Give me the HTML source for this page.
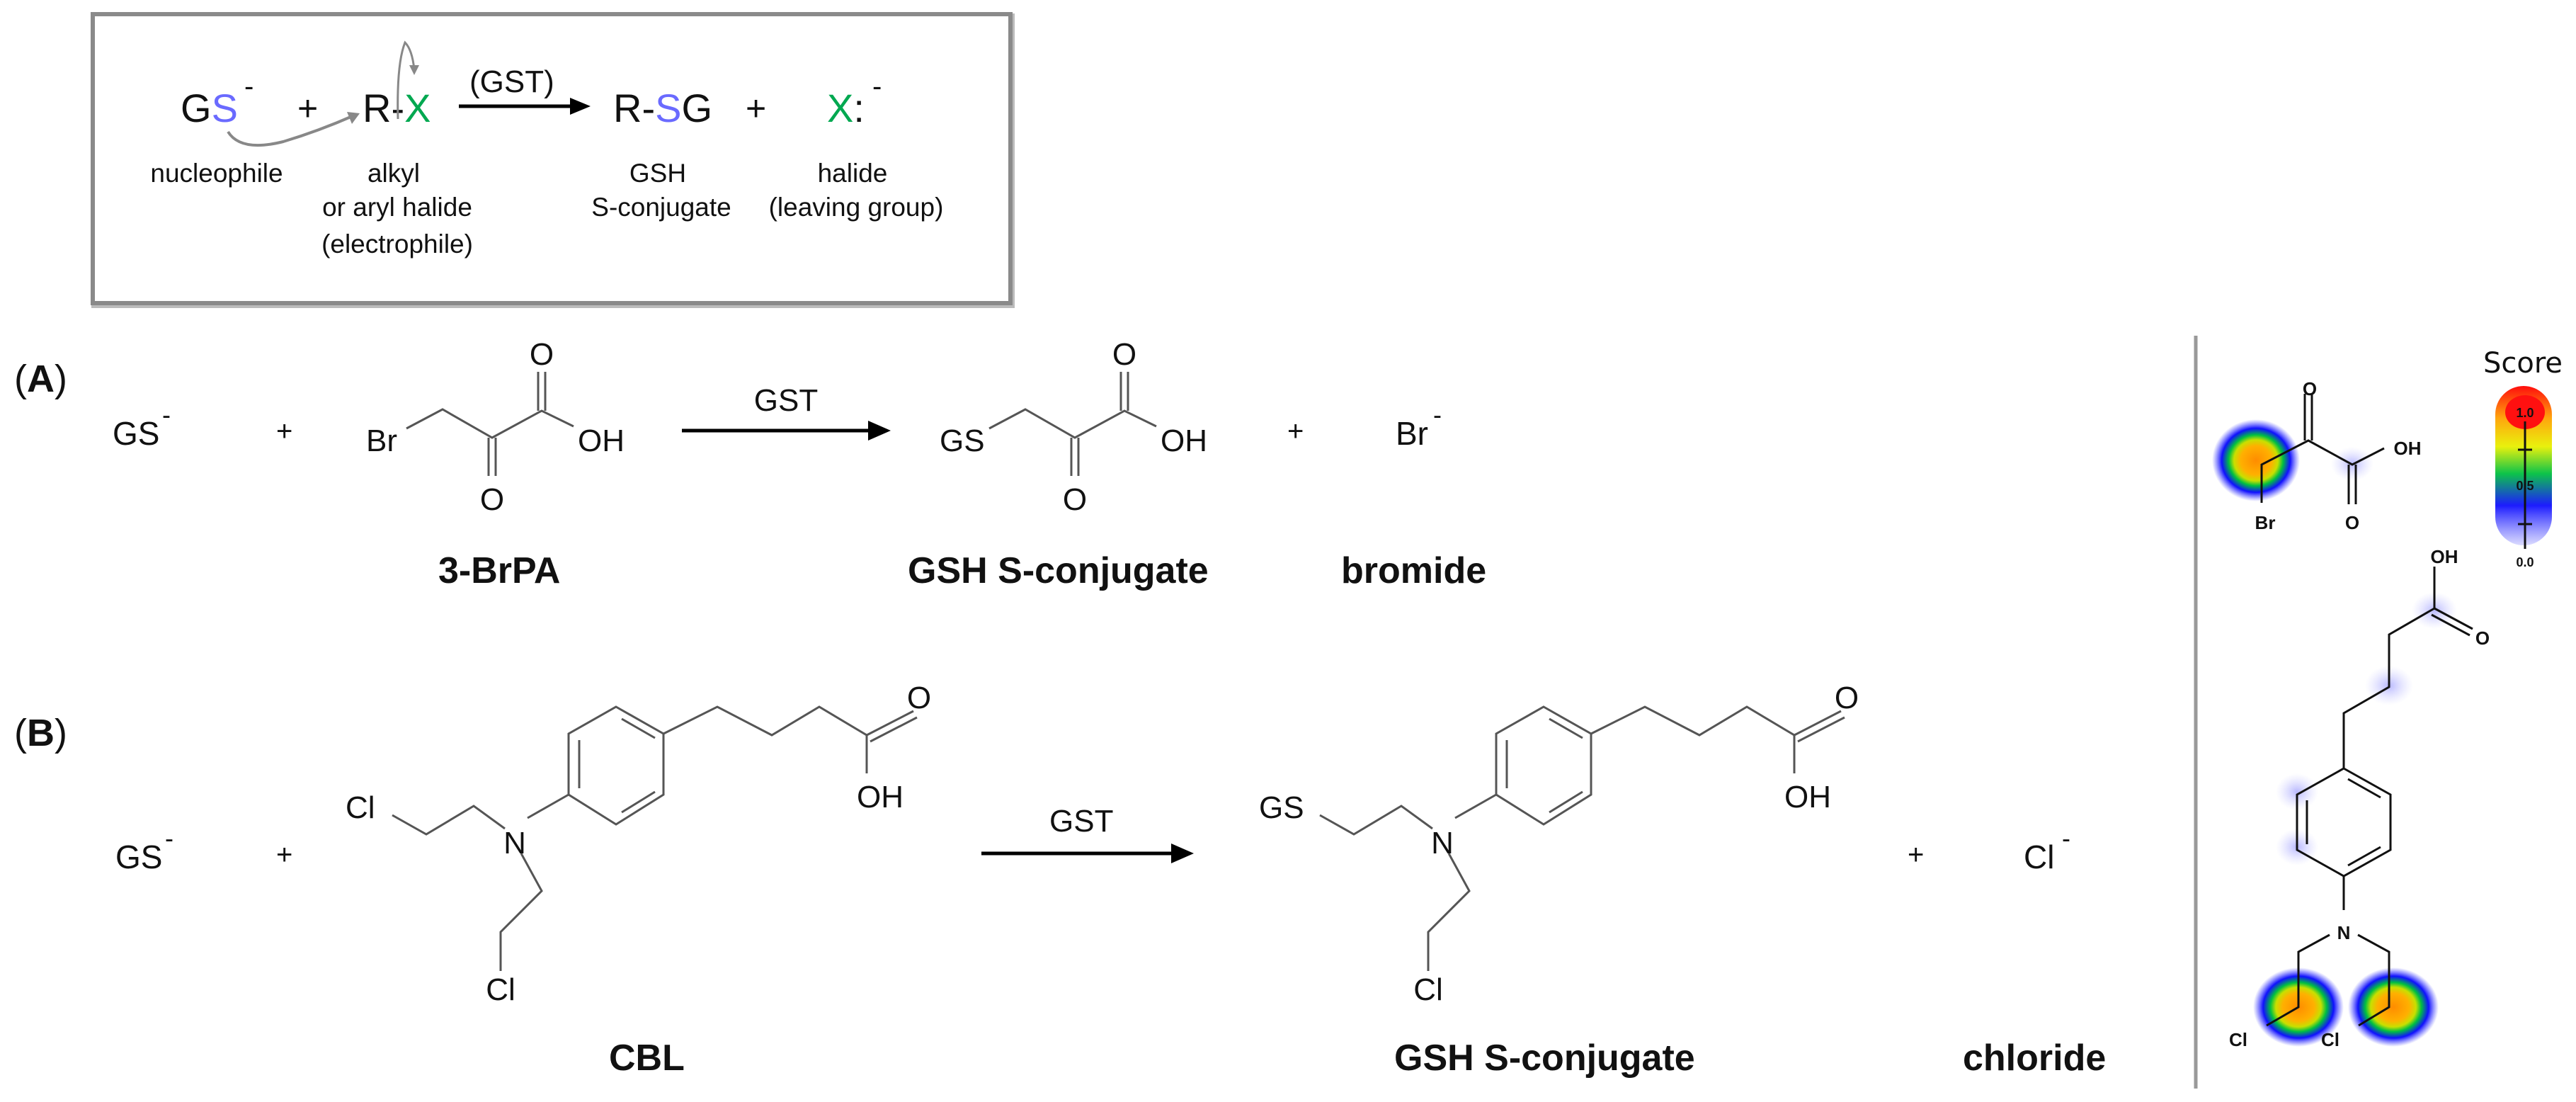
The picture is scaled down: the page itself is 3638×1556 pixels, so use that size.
<!DOCTYPE html>
<html><head><meta charset="utf-8"><style>
html,body{margin:0;padding:0;background:#fff;}
svg{display:block;}
text{font-family:"Liberation Sans",Arial,sans-serif;fill:#111;}
.dv{font-family:"DejaVu Sans",sans-serif;font-weight:bold;}
</style></head><body>
<svg width="3638" height="1556" viewBox="0 0 3638 1556" xmlns="http://www.w3.org/2000/svg">
<defs>
<radialGradient id="hm">
<stop offset="0" stop-color="#ff8c00"/><stop offset="0.35" stop-color="#ffb000"/><stop offset="0.5" stop-color="#c8e000"/><stop offset="0.62" stop-color="#00c040"/><stop offset="0.78" stop-color="#1010ff"/><stop offset="1" stop-color="#4040ff" stop-opacity="0"/>
</radialGradient>
<radialGradient id="faint"><stop offset="0" stop-color="#b8b8ff"/><stop offset="1" stop-color="#d8d8ff" stop-opacity="0"/></radialGradient>
<linearGradient id="bar" x1="0" y1="0" x2="0" y2="1">
<stop offset="0" stop-color="#ff0000"/><stop offset="0.2" stop-color="#ffa000"/><stop offset="0.38" stop-color="#e8f000"/><stop offset="0.55" stop-color="#00c040"/><stop offset="0.75" stop-color="#1010ff"/><stop offset="1" stop-color="#4040ff" stop-opacity="0.2"/>
</linearGradient>
</defs>

<!-- top box -->
<rect x="131" y="20" width="1296" height="408" fill="#fff" stroke="#bbb" stroke-width="8" transform="translate(2,3)"/>
<rect x="131" y="20" width="1296" height="408" fill="#fff" stroke="#8a8a8a" stroke-width="6"/>
<text x="255" y="172" font-size="56">G<tspan style="fill:#6a6aff">S</tspan></text>
<text x="345" y="135" font-size="40">-</text>
<text x="420" y="170" font-size="50">+</text>
<text x="512" y="172" font-size="56">R-<tspan style="fill:#00a850">X</tspan></text>
<text x="663" y="130" font-size="44">(GST)</text>
<line x1="648" y1="150" x2="810" y2="150" stroke="#000" stroke-width="5"/>
<path d="M805,138 L834,150 L805,162 z" fill="#000"/>
<text x="866" y="172" font-size="56">R-<tspan style="fill:#6a6aff">S</tspan>G</text>
<text x="1053" y="170" font-size="50">+</text>
<text x="1168" y="172" font-size="56"><tspan style="fill:#00a850">X</tspan>:</text>
<text x="1232" y="135" font-size="40">-</text>
<path d="M322,186 Q340,215 400,200 Q450,185 500,163" fill="none" stroke="#888" stroke-width="4"/>
<path d="M490,158 L508,160 L497,175 z" fill="#888"/>
<path d="M562,168 Q560,90 572,60 Q582,70 585,98" fill="none" stroke="#888" stroke-width="3"/>
<path d="M578,92 L592,92 L585,106 z" fill="#888"/>
<g font-size="37" text-anchor="middle">
<text x="306" y="257">nucleophile</text>
<text x="556" y="257">alkyl</text>
<text x="561" y="305">or aryl halide</text>
<text x="561" y="357">(electrophile)</text>
<text x="929" y="257">GSH</text>
<text x="934" y="305">S-conjugate</text>
<text x="1204" y="257">halide</text>
<text x="1209" y="305">(leaving group)</text>
</g>

<!-- (A) -->
<text x="20" y="553" font-size="54">(<tspan font-weight="bold">A</tspan>)</text>
<text x="159" y="628" font-size="46">GS</text>
<text x="229" y="598" font-size="36">-</text>
<text x="390" y="622" font-size="40">+</text>
<g stroke="#555" stroke-width="3" fill="none">
<polyline points="574,605 625,578 695,618 765,580 810,602"/>
<line x1="690" y1="618" x2="690" y2="672"/><line x1="700" y1="618" x2="700" y2="672"/>
<line x1="760" y1="580" x2="760" y2="525"/><line x1="770" y1="580" x2="770" y2="525"/>
</g>
<g font-size="44">
<text x="517" y="637">Br</text>
<text x="816" y="637">OH</text>
<text x="695" y="720" text-anchor="middle">O</text>
<text x="765" y="515" text-anchor="middle">O</text>
</g>
<text x="1110" y="580" font-size="44" text-anchor="middle">GST</text>
<line x1="963" y1="608" x2="1232" y2="608" stroke="#000" stroke-width="5"/>
<path d="M1226,594 L1258,608 L1226,622 z" fill="#000"/>
<g transform="translate(823,0)">
<g stroke="#555" stroke-width="3" fill="none">
<polyline points="574,605 625,578 695,618 765,580 810,602"/>
<line x1="690" y1="618" x2="690" y2="672"/><line x1="700" y1="618" x2="700" y2="672"/>
<line x1="760" y1="580" x2="760" y2="525"/><line x1="770" y1="580" x2="770" y2="525"/>
</g>
<g font-size="44">
<text x="816" y="637">OH</text>
<text x="695" y="720" text-anchor="middle">O</text>
<text x="765" y="515" text-anchor="middle">O</text>
</g>
</g>
<text x="1327" y="637" font-size="44">GS</text>
<text x="1818" y="622" font-size="40">+</text>
<text x="1971" y="628" font-size="46">Br</text>
<text x="2024" y="598" font-size="36">-</text>
<g font-size="52" font-weight="bold">
<text x="619" y="823">3-BrPA</text>
<text x="1282" y="823">GSH S-conjugate</text>
<text x="1894" y="823">bromide</text>
</g>

<!-- (B) -->
<text x="20" y="1053" font-size="54">(<tspan font-weight="bold">B</tspan>)</text>
<text x="163" y="1226" font-size="46">GS</text>
<text x="233" y="1196" font-size="36">-</text>
<text x="390" y="1220" font-size="40">+</text>
<g id="cbl">
<g stroke="#555" stroke-width="3" fill="none">
<polyline points="554,1151 602,1178 669,1138 713,1170"/>
<line x1="745" y1="1155" x2="803" y2="1122"/>
<polygon points="870,998 937,1036 937,1122 870,1164 803,1122 803,1036"/>
<line x1="818" y1="1045" x2="818" y2="1113"/>
<line x1="878" y1="1015" x2="925" y2="1042"/>
<line x1="878" y1="1147" x2="925" y2="1118"/>
<polyline points="937,1036 1013,998 1090,1038 1157,998 1224,1038 1224,1092"/>
<line x1="1224" y1="1038" x2="1290" y2="1004"/><line x1="1229" y1="1047" x2="1295" y2="1013"/>
<polyline points="736,1205 765,1258 707,1316 707,1371"/>
</g>
<g font-size="44">
<text x="1243" y="1140" text-anchor="middle">OH</text>
<text x="1298" y="1000" text-anchor="middle">O</text>
<text x="727" y="1205" text-anchor="middle">N</text>
<text x="707" y="1412" text-anchor="middle">Cl</text>
</g>
</g>
<text x="488" y="1155" font-size="44">Cl</text>
<text x="1482" y="1174" font-size="44">GST</text>
<line x1="1386" y1="1205" x2="1660" y2="1205" stroke="#000" stroke-width="5"/>
<path d="M1654,1191 L1686,1205 L1654,1219 z" fill="#000"/>
<use href="#cbl" transform="translate(1310,0)"/>
<text x="1778" y="1155" font-size="44">GS</text>
<text x="2694" y="1220" font-size="40">+</text>
<text x="2858" y="1226" font-size="46">Cl</text>
<text x="2912" y="1196" font-size="36">-</text>
<g font-size="52" font-weight="bold">
<text x="860" y="1511">CBL</text>
<text x="1969" y="1511">GSH S-conjugate</text>
<text x="2772" y="1511">chloride</text>
</g>

<!-- right panel -->
<line x1="3101" y1="474" x2="3101" y2="1537" stroke="#999" stroke-width="5"/>
<ellipse cx="3186" cy="650" rx="62" ry="58" fill="url(#hm)"/>
<ellipse cx="3322" cy="655" rx="30" ry="24" fill="url(#faint)"/>
<ellipse cx="3438" cy="862" rx="32" ry="26" fill="url(#faint)"/>
<ellipse cx="3374" cy="968" rx="34" ry="28" fill="url(#faint)"/>
<ellipse cx="3244" cy="1118" rx="30" ry="26" fill="url(#faint)"/>
<ellipse cx="3244" cy="1196" rx="30" ry="26" fill="url(#faint)"/>
<ellipse cx="3246" cy="1422" rx="64" ry="56" fill="url(#hm)"/>
<ellipse cx="3380" cy="1422" rx="64" ry="56" fill="url(#hm)"/>
<g stroke="#111" stroke-width="3" fill="none">
<polyline points="3194,710 3194,656 3260,622 3322,656 3367,633"/>
<line x1="3255" y1="622" x2="3255" y2="556"/><line x1="3265" y1="622" x2="3265" y2="556"/>
<line x1="3317" y1="656" x2="3317" y2="712"/><line x1="3327" y1="656" x2="3327" y2="712"/>
<polyline points="3438,800 3438,859 3374,896 3374,970 3310,1007 3310,1085"/>
<line x1="3438" y1="859" x2="3492" y2="888"/><line x1="3434" y1="868" x2="3488" y2="897"/>
<polygon points="3310,1085 3376,1122 3376,1200 3310,1237 3244,1200 3244,1122"/>
<line x1="3258" y1="1130" x2="3258" y2="1192"/>
<line x1="3316" y1="1100" x2="3362" y2="1126"/>
<line x1="3316" y1="1222" x2="3362" y2="1196"/>
<line x1="3310" y1="1237" x2="3310" y2="1285"/>
<polyline points="3290,1320 3246,1344 3246,1422 3201,1448"/>
<polyline points="3330,1320 3374,1344 3374,1422 3331,1448"/>
</g>
<g class="dv" font-size="26" text-anchor="middle">
<text x="3199" y="747">Br</text>
<text x="3262" y="558">O</text>
<text x="3322" y="747">O</text>
<text x="3400" y="642">OH</text>
<text x="3452" y="795">OH</text>
<text x="3506" y="910">O</text>
<text x="3310" y="1326">N</text>
<text x="3161" y="1477">Cl</text>
<text x="3291" y="1477">Cl</text>
</g>
<text x="3563" y="526" font-size="40" text-anchor="middle" style="font-family:'DejaVu Sans',sans-serif">Score</text>
<rect x="3524" y="545" width="80" height="225" rx="40" fill="url(#bar)" opacity="0.95"/>
<ellipse cx="3566" cy="582" rx="28" ry="24" fill="#ff1010"/>
<line x1="3566" y1="595" x2="3566" y2="775" stroke="#111" stroke-width="3"/>
<line x1="3556" y1="635" x2="3576" y2="635" stroke="#111" stroke-width="3"/>
<line x1="3556" y1="740" x2="3576" y2="740" stroke="#111" stroke-width="3"/>
<g class="dv" font-size="18" text-anchor="middle">
<text x="3566" y="589">1.0</text>
<text x="3566" y="692">0.5</text>
<text x="3566" y="800">0.0</text>
</g>
</svg>
</body></html>
